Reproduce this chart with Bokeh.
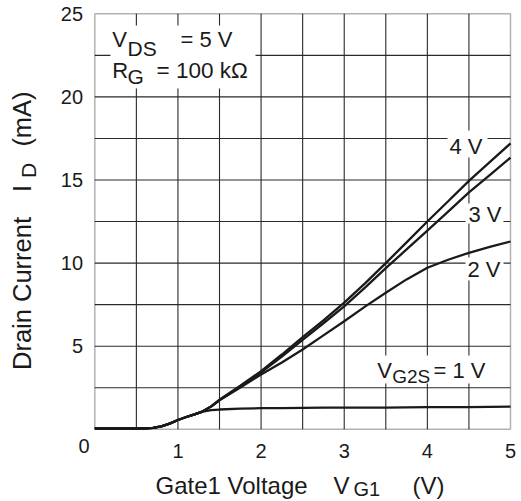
import math
from bokeh.plotting import figure
from bokeh.models import Range1d, Label, BoxAnnotation
from bokeh.core.properties import value
from bokeh.embed import file_html
from bokeh.resources import INLINE

# ---- data ----
vg1 = [0.0, 0.3, 0.6, 0.7, 0.8, 0.9, 1.0, 1.1, 1.2, 1.3, 1.4, 1.5, 1.75, 2.0,
       2.25, 2.5, 2.75, 3.0, 3.25, 3.5, 3.75, 4.0, 4.25, 4.5, 4.75, 5.0]
id_4v = [0.05, 0.05, 0.06, 0.09, 0.18, 0.34, 0.56, 0.74, 0.90, 1.08, 1.38, 1.78, 2.62, 3.50,
         4.50, 5.55, 6.55, 7.62, 8.78, 10.0, 11.25, 12.5, 13.72, 14.95, 16.08, 17.2]
id_3v = [0.05, 0.05, 0.06, 0.09, 0.18, 0.34, 0.56, 0.74, 0.90, 1.08, 1.38, 1.76, 2.58, 3.42,
         4.38, 5.38, 6.38, 7.40, 8.52, 9.70, 10.82, 11.95, 13.1, 14.25, 15.3, 16.35]
id_2v = [0.05, 0.05, 0.06, 0.09, 0.18, 0.34, 0.56, 0.74, 0.90, 1.08, 1.37, 1.74, 2.52, 3.30,
         4.02, 4.80, 5.65, 6.50, 7.38, 8.22, 9.02, 9.72, 10.2, 10.62, 10.98, 11.3]
id_1v = [0.05, 0.05, 0.06, 0.09, 0.18, 0.34, 0.56, 0.74, 0.90, 1.06, 1.15, 1.19, 1.24, 1.27,
         1.28, 1.29, 1.30, 1.30, 1.31, 1.31, 1.32, 1.33, 1.33, 1.34, 1.35, 1.36]
x_ticks = [1, 2, 3, 4, 5]
x_tick_labels = ["1", "2", "3", "4", "5"]
y_ticks = [5, 10, 15, 20, 25]
y_tick_labels = ["5", "10", "15", "20", "25"]
x_grid = [0.5, 1, 1.5, 2, 2.5, 3, 3.5, 4, 4.5]
y_grid = [2.5, 5, 7.5, 10, 12.5, 15, 17.5, 20, 22.5]
X_MIN, X_MAX = 0, 5
Y_MIN, Y_MAX = 0, 25

FONT = "Liberation Sans"
INK = "#1a1a1a"
W, H = 521, 501

# plot area placement on the canvas (pixels)
PL, PR, PT, PB = 94.3, 510.0, 13.3, 428.8
SX = (PR - PL) / (X_MAX - X_MIN)
SY = (PB - PT) / (Y_MAX - Y_MIN)
X0 = X_MIN - PL / SX
X1 = X0 + W / SX
Y1 = Y_MAX + PT / SY
Y0 = Y1 - H / SY

def dx(px):
    return X0 + px / SX
def dy(py):
    return Y1 - py / SY

p = figure(width=W, height=H, output_backend="svg", toolbar_location=None,
           x_range=Range1d(X0, X1), y_range=Range1d(Y0, Y1),
           x_axis_location=None, y_axis_location=None,
           min_border=0, min_border_left=0, min_border_right=0,
           min_border_top=0, min_border_bottom=0)
p.background_fill_color = "white"
p.border_fill_color = "white"
p.outline_line_color = None
p.grid.visible = False

# grid
p.segment(x0=x_grid, y0=Y_MIN, x1=x_grid, y1=Y_MAX, line_color="#2a2a2a",
          line_width=1.1, level="underlay")
p.segment(x0=X_MIN, y0=y_grid, x1=X_MAX, y1=y_grid, line_color="#2a2a2a",
          line_width=1.1, level="underlay")

# white boxes behind the in-plot texts
for (l, r, t, b) in [(110, 255, 25, 88), (447, 487, 130, 157), (465, 503, 203, 223),
                     (465, 503, 257, 280), (372, 487, 355, 383)]:
    p.add_layout(BoxAnnotation(left=dx(l), right=dx(r), top=dy(t), bottom=dy(b),
                               fill_color="white", fill_alpha=1, line_color=None,
                               level="underlay"))

# curves
for ys in (id_4v, id_3v, id_2v, id_1v):
    p.line(vg1, ys, line_color=INK, line_width=2.3)

# plot frame
p.add_layout(BoxAnnotation(left=X_MIN, right=X_MAX, bottom=Y_MIN, top=Y_MAX,
                           fill_alpha=0, line_color="black", line_width=1.5,
                           level="overlay"))

# tick labels
p.text(x=x_ticks, y=dy(450), text=x_tick_labels, text_font=value(FONT),
       text_font_size="20px", text_color=INK, text_align="center",
       text_baseline="middle")
p.text(x=dx(82.5), y=y_ticks, text=y_tick_labels, text_font=value(FONT),
       text_font_size="20px", text_color=INK, text_align="right",
       text_baseline="middle")

def txt(s, px, py, size=22, align="left", rotated=False):
    # (px, py): text baseline position in canvas pixels; placed via its middle
    if rotated:
        px = px - 0.35 * size
    else:
        py = py - 0.35 * size
    p.add_layout(Label(x=dx(px), y=dy(py), text=s, text_font=FONT,
                       text_font_size=f"{size}px", text_color=INK,
                       text_align=align, text_baseline="middle",
                       angle=(math.pi / 2 if rotated else 0.0), angle_units="rad"))

# corner zero
p.add_layout(Label(x=dx(83.5), y=dy(445), text="0", text_font=FONT,
                   text_font_size="20px", text_color=INK,
                   text_align="center", text_baseline="middle"))

# condition box
txt("V", 111.7, 46.7)
txt("DS", 127, 55, size=21)
txt("= 5 V", 180, 46.7)
txt("R", 111.7, 78)
txt("G", 127, 83, size=21)
txt("= 100 kΩ", 156, 78, size=22.5)

# curve labels
txt("4 V", 449, 154)
txt("3 V", 468, 222)
txt("2 V", 467, 277)
txt("V", 376.7, 378)
txt("G2S", 391.7, 383, size=19)
txt("= 1 V", 433, 378)

# x axis title
txt("Gate1 Voltage", 155, 493, size=24)
txt("V", 333, 493, size=24)
txt("G1", 353, 495.5, size=20)
txt("(V)", 412, 493, size=24)

# y axis title (rotated)
txt("Drain Current", 30, 293, size=25.5, align="center", rotated=True)
txt("I", 30, 188, size=25.5, align="center", rotated=True)
txt("D", 35, 170, size=21, align="center", rotated=True)
txt("(mA)", 30, 118.5, size=25.5, align="center", rotated=True)

open("out.html", "w").write(file_html(p, INLINE))
